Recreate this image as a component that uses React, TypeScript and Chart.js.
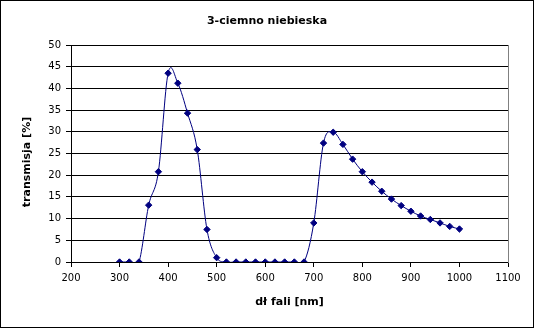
import React, { useEffect, useRef } from "react";
import { Chart, registerables } from "chart.js";

Chart.register(...registerables);

const chartTitle = "3-ciemno niebieska";
const xAxisTitle = "dł fali [nm]";
const yAxisTitle = "transmisja [%]";

const wavelengths = [
  300, 320, 340, 360, 380, 400, 420, 440, 460, 480, 500, 520, 540, 560, 580, 600, 620, 640,
  660, 680, 700, 720, 740, 760, 780, 800, 820, 840, 860, 880, 900, 920, 940, 960, 980, 1000,
];
const transmission = [
  0, 0, 0, 13.1, 20.8, 43.5, 41.2, 34.3, 25.9, 7.5, 1.0, 0, 0, 0, 0, 0, 0, 0,
  0, 0, 9.0, 27.4, 29.9, 27.1, 23.7, 20.8, 18.4, 16.3, 14.5, 13.0, 11.7, 10.6, 9.8, 9.0, 8.2, 7.6,
];

const xMin = 200;
const xMax = 1100;
const xStep = 100;
const yMin = 0;
const yMax = 50;
const yStep = 5;

const FONT = "'DejaVu Sans', sans-serif";
const NAVY = "#000080";
const SMOOTH = 1 / 6;

export default function App() {
  const ref = useRef<HTMLCanvasElement | null>(null);

  useEffect(() => {
    if (!ref.current) return;
    const framePlugin = {
      id: "frame",
      beforeDraw(chart: any) {
        const ctx = chart.ctx;
        ctx.save();
        ctx.fillStyle = "#ffffff";
        ctx.fillRect(0, 0, chart.width, chart.height);
        ctx.fillStyle = "#000000";
        ctx.font = `bold 11px ${FONT}`;
        ctx.textAlign = "center";
        ctx.textBaseline = "middle";
        ctx.fillText(chartTitle, chart.width / 2, 21);
        ctx.restore();
      },
      beforeDatasetsDraw(chart: any) {
        const ctx = chart.ctx;
        const a = chart.chartArea;
        ctx.save();
        ctx.strokeStyle = "#808080";
        ctx.lineWidth = 1;
        ctx.beginPath();
        const x = Math.round(a.right) + 0.5;
        ctx.moveTo(x, Math.round(a.top));
        ctx.lineTo(x, Math.round(a.bottom) + 1);
        ctx.stroke();
        ctx.restore();

        // Excel-like (uniform Catmull-Rom) smoothing of the line's control points
        const meta = chart.getDatasetMeta(0);
        const line: any = meta.dataset;
        if (line) {
          line.updateControlPoints(chart.chartArea, "x");
          const pts: any[] = meta.data as any[];
          for (let i = 0; i < pts.length; i++) {
            const p = pts[i];
            const prev = pts[Math.max(0, i - 1)];
            const next = pts[Math.min(pts.length - 1, i + 1)];
            const tx = (next.x - prev.x) * SMOOTH;
            const ty = (next.y - prev.y) * SMOOTH;
            p.cp1x = p.x - tx;
            p.cp1y = p.y - ty;
            p.cp2x = p.x + tx;
            p.cp2y = p.y + ty;
          }
          line._path = undefined;
        }
      },
      afterDraw(chart: any) {
        const ctx = chart.ctx;
        ctx.save();
        ctx.strokeStyle = "#000000";
        ctx.lineWidth = 1;
        ctx.strokeRect(0.5, 0.5, chart.width - 1, chart.height - 1);
        ctx.translate(27, 162);
        ctx.rotate(-Math.PI / 2);
        ctx.fillStyle = "#000000";
        ctx.font = `bold 11px ${FONT}`;
        ctx.textAlign = "center";
        ctx.textBaseline = "middle";
        ctx.fillText(yAxisTitle, 0, 0);
        ctx.restore();
      },
    };

    const chart = new Chart(ref.current, {
      type: "scatter",
      data: {
        datasets: [
          {
            data: wavelengths.map((x, i) => ({ x, y: transmission[i] })),
            showLine: true,
            tension: 0.3,
            borderColor: NAVY,
            borderWidth: 1,
            backgroundColor: NAVY,
            pointStyle: "rectRot",
            pointRadius: 3.2,
            pointBorderColor: NAVY,
            pointBackgroundColor: NAVY,
            pointBorderWidth: 1,
          },
        ],
      },
      options: {
        responsive: false,
        animation: false,
        devicePixelRatio: 1,
        layout: { padding: { left: 0, right: 26, top: 45, bottom: 0 } },
        plugins: {
          legend: { display: false },
          tooltip: { enabled: false },
          title: { display: false },
        },
        scales: {
          x: {
            type: "linear",
            min: xMin,
            max: xMax,
            afterFit(scale: any) {
              scale.height = 66;
            },
            ticks: {
              stepSize: xStep,
              color: "#000000",
              font: { family: FONT, size: 10 },
              padding: 5,
              maxRotation: 0,
              callback: (v: any) => String(v),
            },
            grid: {
              display: true,
              drawOnChartArea: false,
              drawTicks: true,
              tickLength: 5,
              color: "#000000",
            },
            border: { display: true, color: "#000000", width: 1 },
            title: {
              display: true,
              text: xAxisTitle,
              color: "#000000",
              font: { family: FONT, size: 11, weight: "bold" },
              padding: { top: 0, bottom: 19.4 },
            },
          },
          y: {
            type: "linear",
            min: yMin,
            max: yMax,
            afterFit(scale: any) {
              scale.width = 71;
            },
            ticks: {
              stepSize: yStep,
              color: "#000000",
              font: { family: FONT, size: 10 },
              padding: 5,
              callback: (v: any) => String(v),
            },
            grid: {
              display: true,
              drawOnChartArea: true,
              drawTicks: true,
              tickLength: 5,
              color: "#000000",
            },
            border: { display: true, color: "#000000", width: 1 },
            title: { display: false },
          },
        },
      },
      plugins: [framePlugin],
    } as any);

    return () => chart.destroy();
  }, []);

  return (
    <div style={{ position: "absolute", left: 0, top: 0, width: 534, height: 328 }}>
      <canvas ref={ref} width={534} height={328} style={{ display: "block", width: 534, height: 328 }} />
    </div>
  );
}
